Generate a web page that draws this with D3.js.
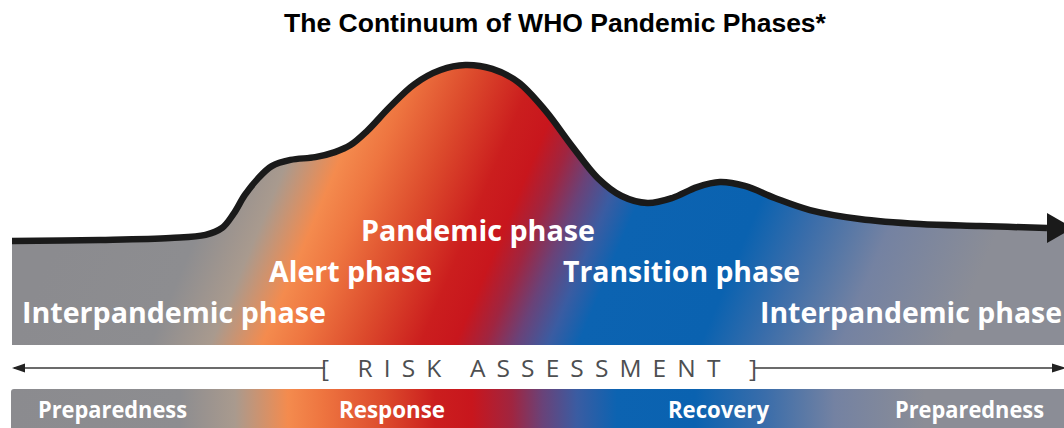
<!DOCTYPE html>
<html>
<head>
<meta charset="utf-8">
<script src="https://cdn.jsdelivr.net/npm/d3@7"></script>
<style>
  html, body { margin: 0; padding: 0; background: #fff; }
  svg { display: block; }
</style>
</head>
<body>
<svg id="chart"></svg>
<script>
var width = 1064, height = 428;

// progress through the continuum (0-1000) and level of activity (0-100)
var progress = [0, 85, 153, 187, 203, 214, 225, 238, 251, 269, 293, 312, 327, 343, 365, 389, 414, 438, 464, 489, 515, 541, 566, 589, 614, 638, 662, 684, 708, 737, 771, 819, 877, 935, 1000];
var level = [37.1, 37.5, 38.2, 39.3, 41.8, 46.8, 53.6, 59.6, 63.9, 66.1, 67.1, 68.9, 71.4, 76.4, 85, 93.2, 98.2, 100, 98.6, 93.9, 83.9, 71.1, 59.6, 53.2, 50.7, 52.5, 56.4, 58.2, 56.8, 52.5, 48.2, 45, 43.2, 42.5, 41.8];

var phaseNames = ["Interpandemic phase", "Alert phase", "Pandemic phase", "Transition phase", "Interpandemic phase"];
var stageNames = ["Preparedness", "Response", "Recovery", "Preparedness"];
var riskLabel = "[ RISK ASSESSMENT ]";
var titleText = "The Continuum of WHO Pandemic Phases*";

// colours of the background gradient, and where they sit
var stopColors = ["#8b8b8f", "#8d8d90", "#a99a8e", "#f48b4e", "#ee7540", "#dc4a2c", "#cb1e1e", "#c8161d", "#a02540", "#6a4278", "#3a5ca2", "#0c63b1", "#0a62b0", "#3a6daa", "#7482a2", "#8b8d96"];
var areaStopX = [12, 150, 210, 262, 300, 360, 420, 455, 485, 515, 548, 578, 700, 760, 840, 950];
var barStopX = [12, 180, 235, 288, 322, 385, 435, 472, 512, 542, 577, 617, 695, 765, 835, 925];

// label layout: left x, baseline, width
var phaseLayout = [[22, 323, 304], [269, 282, 163], [361, 241, 234], [563, 282, 237], [760, 323, 302]];
var stageLayout = [[38, 418, 149], [339, 418, 106], [668, 418, 101], [895, 418, 149]];

var svg = d3.select("#chart").attr("width", width).attr("height", height);

var x = d3.scaleLinear().domain([0, 1000]).range([12, 1047]);
var y = d3.scaleLinear().domain([0, 100]).range([345, 65]);

var pts = progress.map(function (p, i) { return { p: p, v: level[i] }; });
var last = pts[pts.length - 1];
var areaPts = pts.concat([{ p: x.invert(width), v: last.v }]);

var defs = svg.append("defs");

// tilted gradient for the big area
var tilt = 0.42;
var c = width / (1 + tilt * tilt);
var gArea = defs.append("linearGradient")
  .attr("id", "areaGrad")
  .attr("gradientUnits", "userSpaceOnUse")
  .attr("x1", 0).attr("y1", y(0))
  .attr("x2", c).attr("y2", y(0) + c * tilt);
gArea.selectAll("stop").data(stopColors).enter().append("stop")
  .attr("offset", function (d, i) { return areaStopX[i] / width; })
  .attr("stop-color", function (d) { return d; });

var gBar = defs.append("linearGradient")
  .attr("id", "barGrad")
  .attr("gradientUnits", "userSpaceOnUse")
  .attr("x1", 0).attr("y1", 0).attr("x2", width).attr("y2", 0);
gBar.selectAll("stop").data(stopColors).enter().append("stop")
  .attr("offset", function (d, i) { return barStopX[i] / width; })
  .attr("stop-color", function (d) { return d; });

// title
svg.append("text")
  .attr("x", 555).attr("y", 32)
  .attr("text-anchor", "middle")
  .style("font-family", "'Liberation Sans', Arial, sans-serif")
  .style("font-weight", "bold")
  .style("font-size", "26.5px")
  .style("fill", "#000")
  .text(titleText);

// filled area under the curve
var area = d3.area()
  .x(function (d) { return x(d.p); })
  .y0(y(0))
  .y1(function (d) { return y(d.v); })
  .curve(d3.curveCatmullRom.alpha(0.5));

svg.append("path")
  .datum(areaPts)
  .attr("d", area)
  .style("fill", "url(#areaGrad)");

// the curve itself
var line = d3.line()
  .x(function (d) { return x(d.p); })
  .y(function (d) { return y(d.v); })
  .curve(d3.curveCatmullRom.alpha(0.5));

svg.append("path")
  .datum(pts)
  .attr("d", line)
  .style("fill", "none")
  .style("stroke", "#1a1a1a")
  .style("stroke-width", 6.5);

// arrow head at the end of the curve
var ax = x(last.p), ay = y(last.v);
svg.append("path")
  .attr("d", "M" + ax + "," + (ay - 15) + "L" + (ax + 26) + "," + ay + "L" + ax + "," + (ay + 15) + "Z")
  .style("fill", "#1a1a1a");

// phase labels
svg.append("g").selectAll("text")
  .data(phaseNames).enter().append("text")
  .attr("x", function (d, i) { return phaseLayout[i][0]; })
  .attr("y", function (d, i) { return phaseLayout[i][1]; })
  .attr("textLength", function (d, i) { return phaseLayout[i][2]; })
  .attr("lengthAdjust", "spacingAndGlyphs")
  .style("font-family", "'Open Sans', 'Noto Sans', sans-serif")
  .style("font-weight", "bold")
  .style("font-size", "28.5px")
  .style("fill", "#fff")
  .text(function (d) { return d; });

// risk assessment line
var riskY = 368;
svg.append("line")
  .attr("x1", 14).attr("x2", 325).attr("y1", riskY).attr("y2", riskY)
  .style("stroke", "#3a3a3a").style("stroke-width", 1.3);
svg.append("line")
  .attr("x1", 754).attr("x2", 1060).attr("y1", riskY).attr("y2", riskY)
  .style("stroke", "#3a3a3a").style("stroke-width", 1.3);
svg.append("path")
  .attr("d", "M12," + riskY + "L25," + (riskY - 4.5) + "L25," + (riskY + 4.5) + "Z")
  .style("fill", "#222");
svg.append("path")
  .attr("d", "M1066," + riskY + "L1052," + (riskY - 4.5) + "L1052," + (riskY + 4.5) + "Z")
  .style("fill", "#222");

svg.append("text")
  .attr("x", 321).attr("y", 377)
  .attr("textLength", 436)
  .attr("lengthAdjust", "spacing")
  .style("font-family", "'Open Sans', 'Noto Sans', sans-serif")
  .style("font-weight", 400)
  .style("font-size", "24.5px")
  .style("fill", "#4e4f51")
  .text(riskLabel);

// bottom bar
svg.append("rect")
  .attr("x", 11).attr("y", 389)
  .attr("width", width).attr("height", 50)
  .attr("rx", 3)
  .style("fill", "url(#barGrad)");

svg.append("g").selectAll("text")
  .data(stageNames).enter().append("text")
  .attr("x", function (d, i) { return stageLayout[i][0]; })
  .attr("y", function (d, i) { return stageLayout[i][1]; })
  .attr("textLength", function (d, i) { return stageLayout[i][2]; })
  .attr("lengthAdjust", "spacingAndGlyphs")
  .style("font-family", "'Open Sans', 'Noto Sans', sans-serif")
  .style("font-weight", "bold")
  .style("font-size", "22.5px")
  .style("fill", "#fff")
  .text(function (d) { return d; });
</script>
</body>
</html>
